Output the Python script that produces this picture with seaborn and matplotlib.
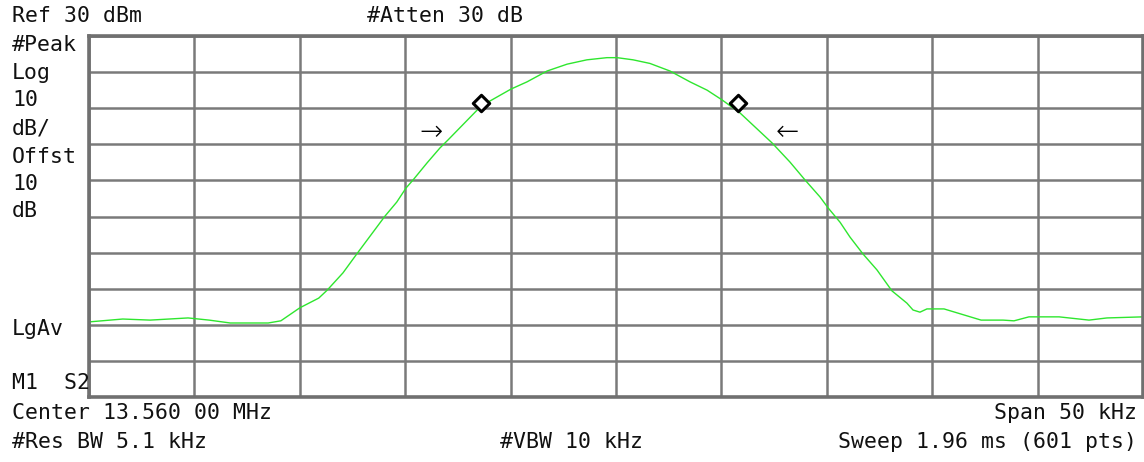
import numpy as np
import pandas as pd
import matplotlib
matplotlib.use("Agg")
import matplotlib.pyplot as plt
import seaborn as sns

# ---- data (frequency offset from centre in kHz, level in dBm) ----
freq_khz = [-25.0, -23.4, -22.1, -20.3, -19.3, -18.3, -16.5, -15.9, -15.0, -14.1,
            -13.7, -12.95, -12.3, -11.7, -10.96, -10.4, -9.96, -9.63, -8.97, -8.35,
            -7.97, -6.4, -4.98, -4.22, -3.27, -2.32, -1.38, -0.43, 0.05, 0.81,
            1.61, 2.56, 3.51, 4.32, 5.03, 5.88, 7.40, 8.25, 8.97, 9.68,
            10.06, 10.63, 11.10, 11.72, 12.38, 13.09, 13.80, 14.09, 14.42, 14.75,
            15.56, 17.32, 18.36, 18.88, 19.59, 21.02, 22.44, 23.29, 25.0]
level_dbm = [-49.2, -48.4, -48.7, -48.1, -48.7, -49.5, -49.5, -48.9, -45.3, -42.6,
             -40.4, -35.6, -30.4, -25.7, -19.9, -16.0, -12.1, -9.9, -5.2, -1.0,
             1.2, 10.6, 15.3, 17.3, 20.3, 22.2, 23.4, 24.0, 24.0, 23.4,
             22.4, 20.3, 17.3, 15.0, 12.3, 8.7, 0.4, -4.9, -9.9, -14.6,
             -17.6, -21.6, -25.7, -30.4, -34.8, -40.6, -44.0, -45.9, -46.5, -45.6,
             -45.6, -48.7, -48.7, -48.9, -47.8, -47.8, -48.7, -48.1, -47.8]
marker_freq = [-6.40, 5.79]
marker_level = [11.4, 11.4]
arrow_freq = [-8.78, 8.11]
arrow_level = [3.4, 3.4]
arrow_text = ["→", "←"]

ref_level = 30
db_per_div = 10
span_khz = 50

header_texts = ["Ref 30 dBm", "#Atten 30 dB"]
side_texts = ["#Peak", "Log", "10", "dB/", "Offst", "10", "dB"]
footer_left = ["Center 13.560 00 MHz", "#Res BW 5.1 kHz"]

W, H = 1144, 462
sns.set_style("white")
plt.rcParams["font.family"] = ["DejaVu Sans Mono", "DejaVu Sans"]

fig = plt.figure(figsize=(W / 100, H / 100), dpi=100)
ax = fig.add_axes([89 / W, 1 - 397 / H, (1143 - 89) / W, (397 - 36) / H])

df = pd.DataFrame({"f": freq_khz, "dbm": level_dbm})
sns.lineplot(data=df, x="f", y="dbm", ax=ax, color="#2ee62e", linewidth=1.0)
sns.scatterplot(x=marker_freq, y=marker_level, ax=ax, marker="D", s=70,
                facecolor="white", edgecolor="black", linewidth=2.2, zorder=5)
for fx, ly, t in zip(arrow_freq, arrow_level, arrow_text):
    ax.text(fx, ly, t, ha="center", va="center", fontsize=20, color="black",
            family=["DejaVu Sans"], fontweight="light")

ax.set_xlim(-span_khz / 2, span_khz / 2)
ax.set_ylim(ref_level - 10 * db_per_div, ref_level)
ax.set_xticks(np.arange(-25, 26, 5))
ax.set_yticks(np.arange(-70, 31, 10))
ax.set_xticklabels([])
ax.set_yticklabels([])
ax.tick_params(length=0)
ax.set_xlabel("")
ax.set_ylabel("")
ax.grid(True, color="#7a7a7a", linewidth=1.8)
ax.set_axisbelow(True)
for s in ax.spines.values():
    s.set_color("#707070")
    s.set_linewidth(2.6)


def ftext(x, y, s, ha="left"):
    fig.text(x / W, 1 - y / H, s, ha=ha, va="center", fontsize=15.5, color="#111111")


ftext(12, 16, header_texts[0])
ftext(367, 16, header_texts[1])
for yy, s in zip([45, 73, 100, 128, 157, 184, 211], side_texts):
    ftext(12, yy, s)
ftext(12, 329, "LgAv")
ftext(12, 383, "M1  S2")
ftext(12, 413, footer_left[0])
ftext(12, 442, footer_left[1])
ftext(1137, 413, "Span 50 kHz", ha="right")
ftext(500, 442, "#VBW 10 kHz")
ftext(1137, 442, "Sweep 1.96 ms (601 pts)", ha="right")

fig.savefig("out.png", dpi=100)
